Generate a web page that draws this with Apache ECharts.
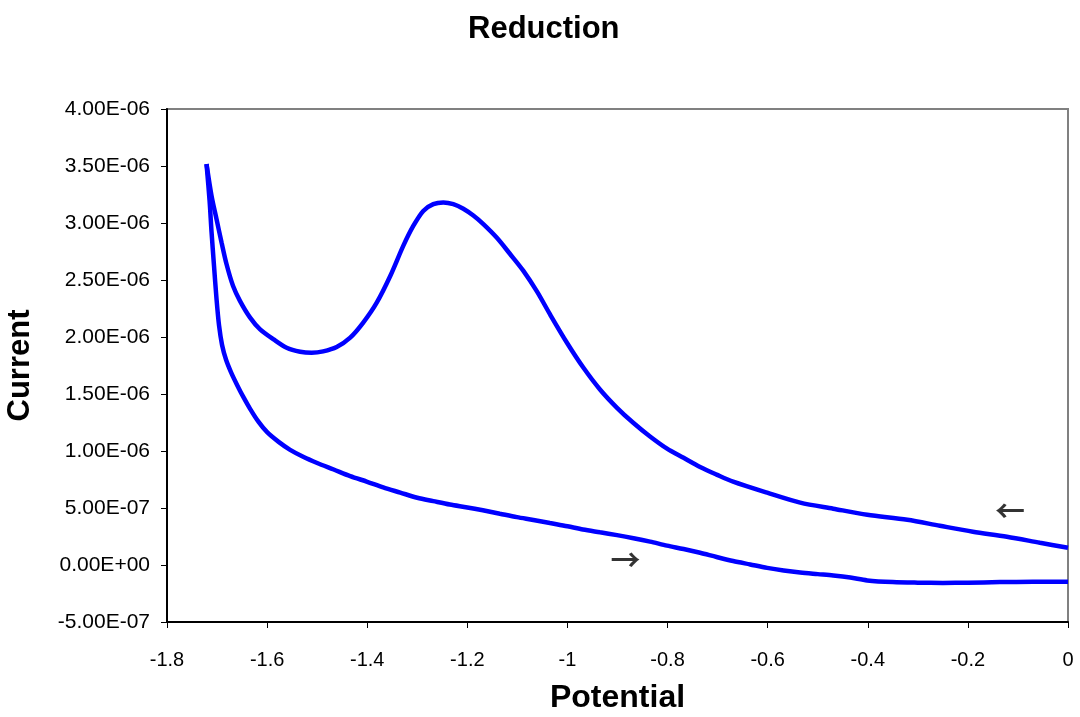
<!DOCTYPE html>
<html>
<head>
<meta charset="utf-8">
<script src="https://cdn.jsdelivr.net/npm/echarts@6/dist/echarts.min.js"></script>
<style>html,body{margin:0;padding:0;background:#fff}#c{width:1080px;height:717px}</style>
</head>
<body>
<div id="c"></div>
<script>
// Reverse scan (0 V -> -1.72 V); current in units of 1e-6 A
const reversePotential = [0, -0.056, -0.122, -0.19, -0.256, -0.321, -0.401, -0.469, -0.535, -0.601, -0.669, -0.702, -0.735, -0.768, -0.801, -0.835, -0.868, -0.901, -0.935, -0.968, -1.001, -1.035, -1.061, -1.088, -1.115, -1.141, -1.168, -1.188, -1.208, -1.228, -1.248, -1.268, -1.288, -1.308, -1.328, -1.354, -1.381, -1.408, -1.434, -1.461, -1.488, -1.511, -1.534, -1.561, -1.587, -1.614, -1.634, -1.654, -1.668, -1.681, -1.691, -1.701, -1.711, -1.721];
const reverseCurrent = [0.151, 0.195, 0.248, 0.292, 0.344, 0.397, 0.441, 0.494, 0.547, 0.634, 0.731, 0.793, 0.86, 0.94, 1.02, 1.127, 1.245, 1.379, 1.54, 1.73, 1.95, 2.2, 2.4, 2.58, 2.73, 2.87, 2.99, 3.065, 3.125, 3.165, 3.18, 3.165, 3.106, 2.974, 2.799, 2.535, 2.301, 2.126, 1.994, 1.912, 1.874, 1.862, 1.871, 1.906, 1.979, 2.067, 2.17, 2.315, 2.447, 2.638, 2.829, 3.033, 3.238, 3.517];
// Forward scan (-1.72 V -> 0 V)
const forwardPotential = [-1.721, -1.715, -1.711, -1.706, -1.701, -1.696, -1.69, -1.682, -1.672, -1.66, -1.647, -1.634, -1.617, -1.6, -1.577, -1.554, -1.527, -1.5, -1.467, -1.434, -1.4, -1.368, -1.334, -1.3, -1.268, -1.235, -1.2, -1.169, -1.135, -1.101, -1.068, -1.035, -1.0, -0.969, -0.935, -0.901, -0.868, -0.835, -0.801, -0.768, -0.735, -0.702, -0.669, -0.635, -0.601, -0.568, -0.535, -0.5, -0.469, -0.435, -0.401, -0.35, -0.3, -0.25, -0.2, -0.136, -0.07, 0];
const forwardCurrent = [3.517, 3.2, 2.92, 2.62, 2.33, 2.10, 1.93, 1.80, 1.69, 1.58, 1.47, 1.37, 1.255, 1.165, 1.08, 1.01, 0.947, 0.895, 0.838, 0.78, 0.73, 0.68, 0.635, 0.59, 0.56, 0.53, 0.505, 0.48, 0.45, 0.42, 0.395, 0.368, 0.34, 0.312, 0.287, 0.262, 0.235, 0.205, 0.17, 0.14, 0.107, 0.07, 0.035, 0.005, -0.025, -0.048, -0.066, -0.08, -0.092, -0.11, -0.135, -0.15, -0.155, -0.157, -0.155, -0.15, -0.148, -0.148];
const xTickValues = [-1.8, -1.6, -1.4, -1.2, -1, -0.8, -0.6, -0.4, -0.2, 0];
const yTickValues = [-0.5e-6, 0, 0.5e-6, 1e-6, 1.5e-6, 2e-6, 2.5e-6, 3e-6, 3.5e-6, 4e-6];
const arrowTexts = ['\u2190', '\u2192'];
const arrowPotential = [-0.116, -0.884];
const arrowCurrent = [0.476, 0.046];

const toPairs = (xs, ys) => xs.map((x, i) => [x, ys[i] * 1e-6]);
function sci(v) {
  if (Math.abs(v) < 1e-15) return '0.00E+00';
  const s = v.toExponential(2).toUpperCase();
  const m = s.match(/^(-?[\d.]+)E([+-])(\d+)$/);
  const e = m[3].length < 2 ? '0' + m[3] : m[3];
  return m[1] + 'E' + m[2] + e;
}
const font = 'Liberation Sans, Arial, sans-serif';
const chart = echarts.init(document.getElementById('c'));
const lineStyle = { color: '#0000FF', width: 4.5 };
chart.setOption({
  animation: false,
  backgroundColor: '#fff',
  title: {
    text: 'Reduction', left: 463, top: 9,
    textStyle: { fontFamily: font, fontSize: 31, fontWeight: 'bold', color: '#000' }
  },
  grid: { left: 167, right: 12, top: 109, bottom: 95, show: true, borderColor: '#808080', borderWidth: 2,
          backgroundColor: '#fff', containLabel: false, outerBoundsMode: 'none' },
  xAxis: {
    type: 'value', min: xTickValues[0], max: xTickValues[xTickValues.length - 1], interval: 0.2,
    name: 'Potential', nameLocation: 'middle', nameGap: 60,
    nameTextStyle: { fontFamily: font, fontSize: 32, fontWeight: 'bold', color: '#000' },
    axisLine: { onZero: false, lineStyle: { color: '#000', width: 2 } },
    axisTick: { show: true, inside: false, length: 6, lineStyle: { color: '#000', width: 1 } },
    axisLabel: { fontFamily: font, fontSize: 20, color: '#000', margin: 28,
      formatter: v => String(parseFloat(v.toFixed(1))) },
    splitLine: { show: false }
  },
  yAxis: {
    type: 'value', min: yTickValues[0], max: yTickValues[yTickValues.length - 1], interval: 0.5e-6,
    name: 'Current', nameLocation: 'middle', nameGap: 131, nameRotate: 90,
    nameTextStyle: { fontFamily: font, fontSize: 31, fontWeight: 'bold', color: '#000' },
    axisLine: { onZero: false, lineStyle: { color: '#000', width: 2 } },
    axisTick: { show: true, inside: false, length: 6, lineStyle: { color: '#000', width: 1 } },
    axisLabel: { fontFamily: font, fontSize: 21, color: '#000', margin: 17, formatter: v => sci(v) },
    splitLine: { show: false }
  },
  series: [
    { type: 'line', data: toPairs(reversePotential, reverseCurrent), smooth: 0.3, showSymbol: false, lineStyle, z: 3 },
    { type: 'line', data: toPairs(forwardPotential, forwardCurrent), smooth: 0.3, showSymbol: false, lineStyle, z: 3 },
    { type: 'scatter', data: arrowPotential.map((x, i) => ({ value: [x, arrowCurrent[i] * 1e-6], name: arrowTexts[i] })),
      symbol: 'circle', symbolSize: 1, itemStyle: { color: 'rgba(0,0,0,0)' }, z: 5,
      label: { show: true, position: 'inside', fontFamily: 'Noto Sans CJK JP', fontWeight: 'bold', fontSize: 30, color: '#000', formatter: p => p.name } }
  ]
});
</script>
</body>
</html>
